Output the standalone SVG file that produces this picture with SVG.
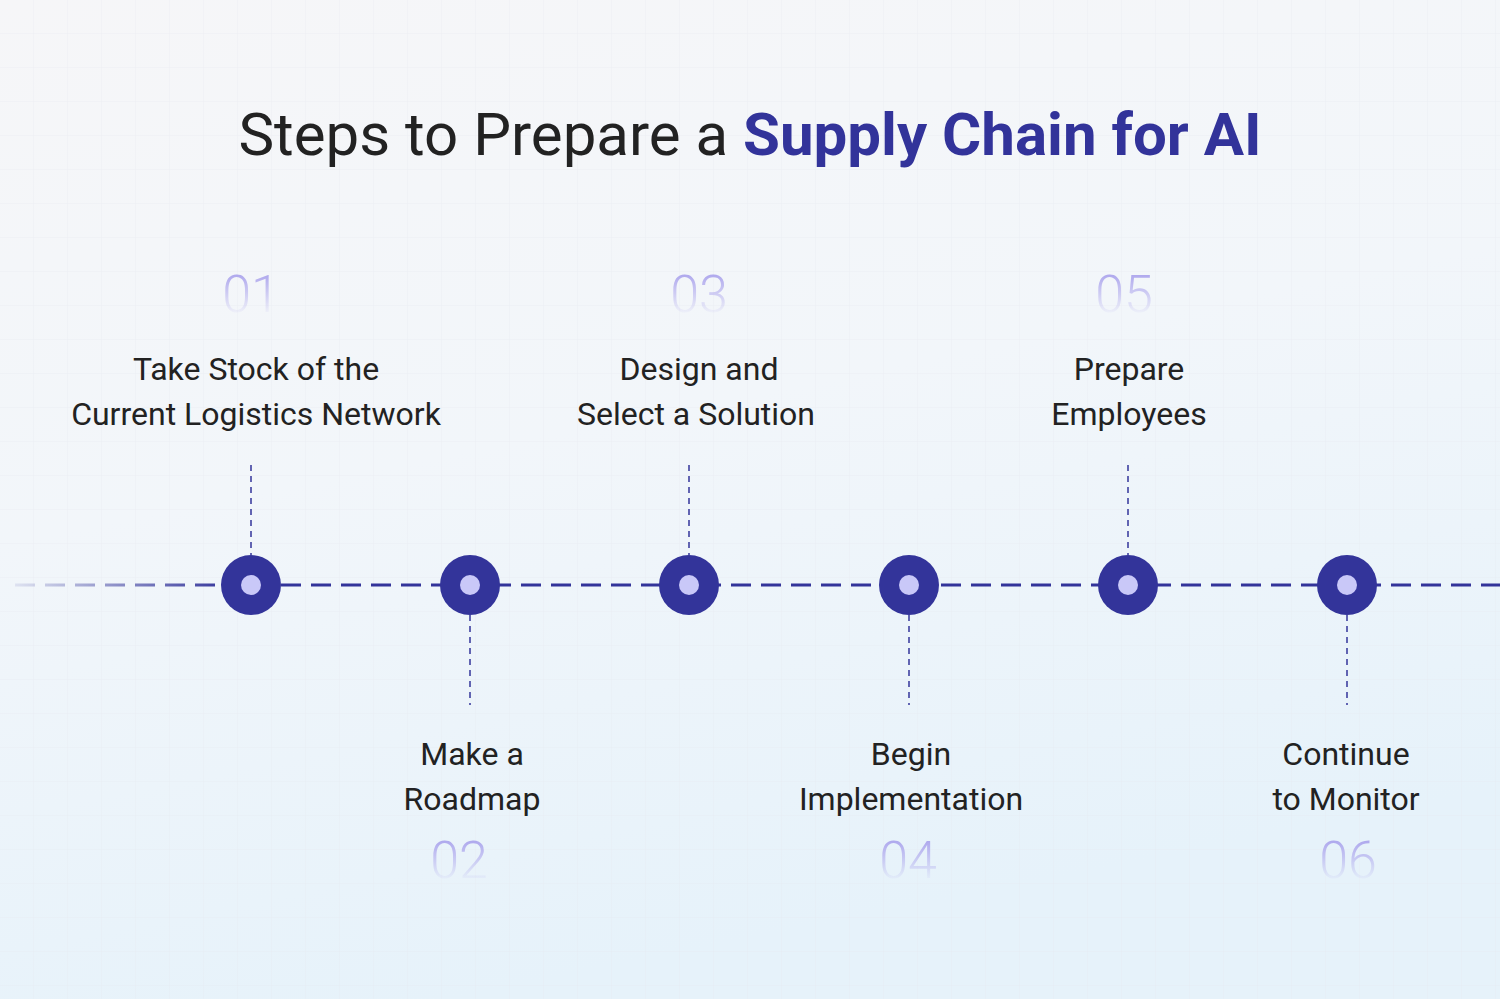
<svg xmlns="http://www.w3.org/2000/svg" width="1500" height="999" viewBox="0 0 1500 999">
<defs>
<linearGradient id="bg" x1="0" y1="0" x2="0.3" y2="1"><stop offset="0" stop-color="#f6f6f8"/><stop offset="0.5" stop-color="#f2f6fa"/><stop offset="1" stop-color="#e6f2fa"/></linearGradient>
<linearGradient id="num" x1="0" y1="0" x2="0" y2="1"><stop offset="0.1" stop-color="#a8a0ec"/><stop offset="0.85" stop-color="#a8a0ec" stop-opacity="0"/></linearGradient>
<linearGradient id="fade" gradientUnits="userSpaceOnUse" x1="15" y1="0" x2="230" y2="0"><stop offset="0" stop-color="#33349a" stop-opacity="0.1"/><stop offset="1" stop-color="#33349a"/></linearGradient>
<pattern id="grid" width="34" height="34" patternUnits="userSpaceOnUse"><path d="M34 0V34H0" fill="none" stroke="#e4e6ee" stroke-width="1"/></pattern>
<style>
.lbl{font-family:Roboto,"Liberation Sans",sans-serif;font-size:32px;fill:#222;text-anchor:middle}
.num{font-family:Roboto,"Liberation Sans",sans-serif;font-weight:300;font-size:52px;fill:url(#num);text-anchor:middle}
.v{stroke:#33349a;stroke-width:1.5;stroke-dasharray:6 5}
.o{fill:#33349a}.i{fill:#c9c8f8}
</style>
</defs>
<rect width="1500" height="999" fill="url(#bg)"/>
<rect width="1500" height="999" fill="url(#grid)" opacity="0.5"/>
<text x="750" y="155" font-family="Roboto,'Liberation Sans',sans-serif" font-size="60" text-anchor="middle" fill="#222">Steps to Prepare a <tspan font-weight="bold" fill="#32339a">Supply Chain for AI</tspan></text>
<g id="connectors">
<line x1="15" y1="585" x2="251" y2="585" stroke="url(#fade)" stroke-width="3" stroke-dasharray="20 10"/>
<line x1="251" y1="585" x2="1500" y2="585" stroke="#33349a" stroke-width="3" stroke-dasharray="20 10"/>
<line class="v" x1="251" y1="465" x2="251" y2="555"/>
<line class="v" x1="689" y1="465" x2="689" y2="555"/>
<line class="v" x1="1128" y1="465" x2="1128" y2="555"/>
<line class="v" x1="470" y1="615" x2="470" y2="705"/>
<line class="v" x1="909" y1="615" x2="909" y2="705"/>
<line class="v" x1="1347" y1="615" x2="1347" y2="705"/>
</g>
<g id="s1"><circle class="o" cx="251" cy="585" r="30"/><circle class="i" cx="251" cy="585" r="10"/><text class="num" x="251" y="312">01</text><text class="lbl" x="256" y="380">Take Stock of the</text><text class="lbl" x="256" y="425">Current Logistics Network</text></g>
<g id="s2"><circle class="o" cx="470" cy="585" r="30"/><circle class="i" cx="470" cy="585" r="10"/><text class="num" x="459" y="878">02</text><text class="lbl" x="472" y="765">Make a</text><text class="lbl" x="472" y="810">Roadmap</text></g>
<g id="s3"><circle class="o" cx="689" cy="585" r="30"/><circle class="i" cx="689" cy="585" r="10"/><text class="num" x="699" y="312">03</text><text class="lbl" x="699" y="380">Design and</text><text class="lbl" x="696" y="425">Select a Solution</text></g>
<g id="s4"><circle class="o" cx="909" cy="585" r="30"/><circle class="i" cx="909" cy="585" r="10"/><text class="num" x="908" y="878">04</text><text class="lbl" x="911" y="765">Begin</text><text class="lbl" x="911" y="810">Implementation</text></g>
<g id="s5"><circle class="o" cx="1128" cy="585" r="30"/><circle class="i" cx="1128" cy="585" r="10"/><text class="num" x="1124" y="312">05</text><text class="lbl" x="1129" y="380">Prepare</text><text class="lbl" x="1129" y="425">Employees</text></g>
<g id="s6"><circle class="o" cx="1347" cy="585" r="30"/><circle class="i" cx="1347" cy="585" r="10"/><text class="num" x="1348" y="878">06</text><text class="lbl" x="1346" y="765">Continue</text><text class="lbl" x="1346" y="810">to Monitor</text></g>
</svg>
